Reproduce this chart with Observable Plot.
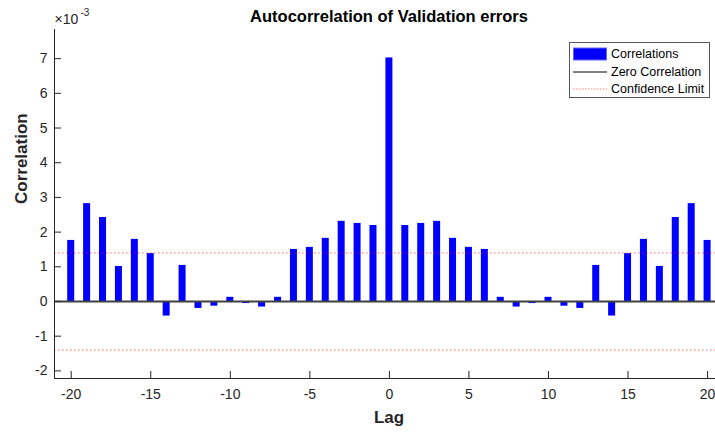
<!DOCTYPE html>
<html>
<head>
<meta charset="utf-8">
<script src="https://cdn.jsdelivr.net/npm/d3@7"></script>
<script src="https://cdn.jsdelivr.net/npm/@observablehq/plot@0.6"></script>
<style>
  body { margin: 0; background: #fff; }
  #wrap { position: relative; width: 715px; height: 432px; overflow: hidden; font-family: Arial, "Liberation Sans", sans-serif; }
  #legend { position: absolute; left: 569px; top: 42px; width: 141px; height: 56px; border: 1px solid #555; background: #fff; box-sizing: border-box; }
  .row { position: absolute; left: 3px; height: 16px; display: flex; align-items: center; font-size: 12.5px; color: #000; white-space: nowrap; }
  .row svg { margin-right: 4px; }
</style>
</head>
<body>
<div id="wrap"></div>
<script>
// Data (correlation values are in units of 1e-3)
const lags = [-20,-19,-18,-17,-16,-15,-14,-13,-12,-11,-10,-9,-8,-7,-6,-5,-4,-3,-2,-1,0,1,2,3,4,5,6,7,8,9,10,11,12,13,14,15,16,17,18,19,20];
const correlations = [1.76,2.82,2.42,1.01,1.79,1.38,-0.42,1.04,-0.20,-0.135,0.12,-0.06,-0.16,0.12,1.50,1.56,1.82,2.31,2.25,2.19,7.02,2.19,2.25,2.31,1.82,1.56,1.50,0.12,-0.16,-0.06,0.12,-0.135,-0.20,1.04,-0.42,1.38,1.79,1.01,2.42,2.82,1.76];
const confidenceLimit = 1.40;
const xTicks = [-20,-15,-10,-5,0,5,10,15,20];
const yTicks = [-2,-1,0,1,2,3,4,5,6,7];
const titleText = "Autocorrelation of Validation errors";
const xLabel = "Lag";
const yLabel = "Correlation";
const legendLabels = ["Correlations", "Zero Correlation", "Confidence Limit"];

const data = lags.map((lag, i) => ({lag, value: correlations[i]}));
const xDomain = [-21.05, 21];
const yDomain = [-2.22, 7.84];
const halfWidth = 0.22;
const font = "Arial, 'Liberation Sans', sans-serif";
const hyphenFormat = d => String(d);

const chart = Plot.plot({
  width: 715,
  height: 432,
  marginLeft: 54,
  marginRight: 0,
  marginTop: 29,
  marginBottom: 54,
  style: {fontFamily: font, fontSize: "14px", color: "#262626", background: "#fff"},
  x: {domain: xDomain, range: [54, 723], label: null},
  y: {domain: yDomain, label: null},
  marks: [
    Plot.rect(data, {x1: d => d.lag - halfWidth, x2: d => d.lag + halfWidth, y1: 0, y2: "value", fill: "#0000ff"}),
    Plot.ruleY([0], {stroke: "#404040", strokeWidth: 2}),
    Plot.ruleY([confidenceLimit, -confidenceLimit], {stroke: "#ff0000", strokeDasharray: "1.5,2.5", strokeOpacity: 0.6}),
    Plot.ruleY([yDomain[0]], {stroke: "#262626", strokeWidth: 1}),
    Plot.ruleX([xDomain[0]], {stroke: "#262626", strokeWidth: 1}),
    Plot.axisX({ticks: xTicks, tickFormat: hyphenFormat, tickSize: -7, tickPadding: 18, fontSize: 14, stroke: "#262626", fill: "#262626", label: null}),
    Plot.axisY({ticks: yTicks, tickFormat: hyphenFormat, tickSize: -7, tickPadding: 14, fontSize: 14, stroke: "#262626", fill: "#262626", label: null}),
    Plot.text([titleText], {frameAnchor: "top", dx: 4, dy: -13, fontSize: 16.5, fontWeight: "bold", fill: "#000", lineAnchor: "middle"}),
    Plot.text([xLabel], {frameAnchor: "bottom", dx: 4, dy: 39, fontSize: 17, fontWeight: "bold", fill: "#262626", lineAnchor: "middle"}),
    Plot.text([yLabel], {frameAnchor: "left", dx: -33, rotate: -90, fontSize: 17, fontWeight: "bold", fill: "#262626", lineAnchor: "middle"}),
    Plot.text(["\u00d710"], {frameAnchor: "top-left", dx: 0, dy: -10, textAnchor: "start", fontSize: 14, fill: "#262626", lineAnchor: "middle"}),
    Plot.text(["-3"], {frameAnchor: "top-left", dx: 26, dy: -17, textAnchor: "start", fontSize: 10, fill: "#262626", lineAnchor: "middle"})
  ]
});

const wrap = document.getElementById("wrap");
wrap.appendChild(chart);

// Legend
const legend = document.createElement("div");
legend.id = "legend";
const samples = [
  `<svg width="34" height="14"><rect x="0.5" y="1" width="33" height="12" fill="#0000ff" stroke="#6666ff" stroke-width="1"/></svg>`,
  `<svg width="34" height="14"><line x1="0" x2="34" y1="7" y2="7" stroke="#000" stroke-width="1"/></svg>`,
  `<svg width="34" height="14"><line x1="0" x2="34" y1="7" y2="7" stroke="#ff0000" stroke-opacity="0.5" stroke-dasharray="1.5,1.5" stroke-width="1"/></svg>`
];
const rowTops = [3, 21, 38];
legendLabels.forEach((label, i) => {
  const row = document.createElement("div");
  row.className = "row";
  row.style.top = rowTops[i] + "px";
  row.innerHTML = samples[i] + `<span>${label}</span>`;
  legend.appendChild(row);
});
wrap.appendChild(legend);
</script>
</body>
</html>
